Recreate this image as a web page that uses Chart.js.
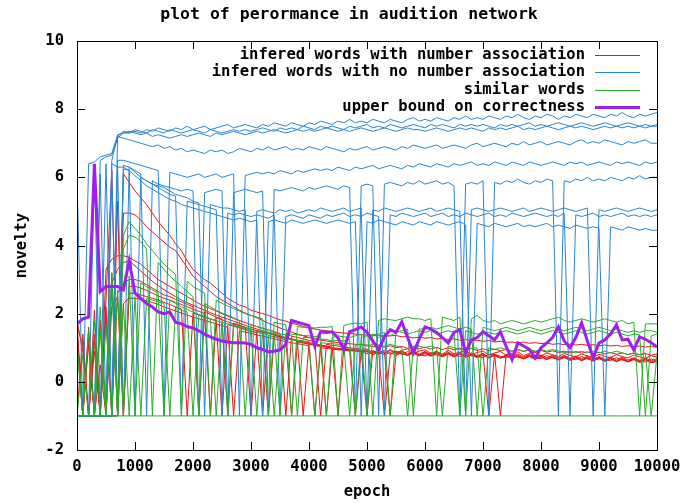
<!DOCTYPE html>
<html>
<head>
<meta charset="utf-8">
<title>plot of perormance in audition network</title>
<script src="https://cdn.jsdelivr.net/npm/chart.js"></script>
<style>
  html, body { margin: 0; padding: 0; background: #fff; }
  canvas { display: block; }
</style>
</head>
<body>
<canvas id="noveltyChart" width="684" height="503"></canvas>
<script>
// epochs (x values), one sample every 100 epochs
var epochs = [
  0, 100, 200, 300, 400, 500, 600, 700, 800, 900,
  1000, 1100, 1200, 1300, 1400, 1500, 1600, 1700, 1800, 1900,
  2000, 2100, 2200, 2300, 2400, 2500, 2600, 2700, 2800, 2900,
  3000, 3100, 3200, 3300, 3400, 3500, 3600, 3700, 3800, 3900,
  4000, 4100, 4200, 4300, 4400, 4500, 4600, 4700, 4800, 4900,
  5000, 5100, 5200, 5300, 5400, 5500, 5600, 5700, 5800, 5900,
  6000, 6100, 6200, 6300, 6400, 6500, 6600, 6700, 6800, 6900,
  7000, 7100, 7200, 7300, 7400, 7500, 7600, 7700, 7800, 7900,
  8000, 8100, 8200, 8300, 8400, 8500, 8600, 8700, 8800, 8900,
  9000, 9100, 9200, 9300, 9400, 9500, 9600, 9700, 9800, 9900, 10000
];

var xTicks = [0, 1000, 2000, 3000, 4000, 5000, 6000, 7000, 8000, 9000, 10000];
var yTicks = [-2, 0, 2, 4, 6, 8, 10];

// infered words with number association
var red1 = [
  1.6, 1.1, -1, 1.4, -1, 2.4, 6.2, -1, 6.1, 5.85,
  5.6, 5.4, 5.2, 4.95, 4.7, 4.5, 4.3, 4.05, 3.85, 3.55,
  3.3, 3.15, 3.0, 2.9, 2.75, 2.6, 2.45, 2.35, 2.25, 2.2,
  2.1, 2.05, 2.0, 1.95, 1.88, 1.82, 1.78, 1.72, 1.68, 1.62,
  1.58, 1.55, 1.52, 1.5, 1.47, 1.45, 1.43, 1.42, 1.4, 1.38,
  1.37, 1.35, 1.37, 1.33, 1.35, 1.36, 1.32, 1.33, 1.29, 1.31,
  1.28, 1.3, 1.26, 1.27, 1.24, 1.26, 1.22, 1.24, 1.21, 1.22,
  1.19, 1.21, 1.17, 1.19, 1.16, 1.17, 1.14, 1.17, 1.13, 1.15,
  1.12, 1.14, 1.1, 1.12, 1.09, 1.11, 1.08, 1.1, 1.07, 1.09,
  1.06, 1.08, 1.05, 1.07, 1.04, 1.06, 1.03, 1.05, 1.02, 1.04, 1.02
];
var red2 = [
  1.3, -1, 1.6, -1, 0.5, -1, 3.2, -1, 4.95, 4.95,
  4.9, 4.75, 4.55, 4.4, 4.25, 4.1, 3.95, 3.85, 3.6, 3.35,
  3.1, 2.95, 2.8, 2.65, 2.5, 2.4, 2.3, 2.2, 2.1, 2.02,
  1.95, 1.88, 1.8, 1.72, 1.65, 1.58, 1.52, 1.46, 1.4, 1.35,
  1.3, 1.26, 1.22, 1.2, 1.17, 1.15, 1.13, 1.12, 1.1, 1.09,
  1.08, 1.03, 1.07, 1.01, 1.06, 1.0, 1.04, 0.98, 1.03, 0.97,
  1.02, 0.96, 1.01, 0.95, 1.0, 0.94, 0.99, 0.93, 0.98, 0.92,
  0.97, 0.92, 0.96, 0.91, 0.95, 0.9, 0.94, 0.89, 0.93, 0.88,
  0.92, 0.87, 0.91, 0.86, 0.9, 0.85, 0.89, 0.84, 0.88, 0.83,
  0.87, 0.82, 0.86, 0.81, 0.85, 0.8, 0.84, 0.79, 0.83, 0.78, 0.82
];
var red3 = [
  1.8, 0.9, -1, 2.1, -1, 3.3, 3.6, 3.7, 3.7, 3.65,
  3.55, 3.45, 3.3, 3.15, 3.0, 2.9, 2.8, 2.7, 2.6, 2.5,
  2.4, 2.3, 2.22, 2.15, 2.08, 2.0, 1.93, 1.86, 1.8, 1.74,
  1.68, 1.62, 1.57, 1.52, 1.47, 1.42, -1, 1.34, 1.3, 1.26,
  1.22, 1.18, -1, 1.1, 1.07, 1.05, 1.02, 1.0, 0.98, 0.96,
  0.96, 0.86, 0.94, 0.84, 0.95, 0.85, 0.92, 0.97, 0.84, 0.9,
  0.94, 0.83, 0.9, 0.81, 0.93, 0.82, 0.87, 0.92, 0.8, 0.86,
  0.9, 0.79, 0.85, 0.89, 0.78, 0.84, 0.88, 0.77, 0.83, 0.87,
  0.76, 0.84, 0.8, 0.74, 0.83, 0.78, 0.73, 0.82, 0.76, 0.72,
  0.81, 0.75, 0.71, 0.8, 0.74, 0.7, 0.79, 0.73, 0.69, 0.77, 0.72
];
var red4 = [
  -1, 1.4, -1, -1, 1.8, -1, 2.9, 3.3, 3.5, 3.55,
  3.4, 3.25, 3.1, 2.95, 2.82, 2.7, 2.6, 2.5, 2.4, 2.32,
  2.25, 2.17, 2.1, 2.03, 1.96, 1.9, 1.84, 1.78, 1.72, 1.66,
  1.6, 1.55, 1.5, 1.45, 1.4, 1.35, 1.3, 1.26, 1.22, 1.18,
  1.15, 1.12, 1.08, 1.05, 1.02, -1, 0.98, 0.96, 0.94, 0.93,
  -1, 0.92, 0.82, 0.93, 0.81, 0.9, 0.8, 0.89, 0.83, 0.78,
  0.88, 0.78, 0.86, 0.76, 0.85, 0.79, 0.74, 0.84, 0.76, 0.73,
  0.83, 0.72, 0.81, 0.75, 0.7, 0.8, 0.72, 0.69, 0.78, 0.71,
  0.68, 0.77, 0.7, 0.66, 0.76, 0.68, 0.65, 0.74, 0.67, 0.63,
  0.72, 0.65, 0.62, 0.71, 0.64, 0.6, 0.69, 0.62, 0.58, 0.67, 0.6
];
var red5 = [
  1.7, -1, -1, 1.2, -1, 2.2, -1, 2.6, 2.9, 3.0,
  3.0, 2.95, 2.85, 2.75, 2.65, 2.55, 2.5, 2.42, 2.35, 2.27,
  2.2, -1, 2.05, 1.98, 1.9, 1.84, -1, 1.72, 1.66, 1.6,
  1.55, 1.5, 1.46, 1.42, 1.37, 1.33, 1.29, 1.25, 1.2, -1,
  1.12, 1.08, 1.05, 1.02, 0.99, 0.97, 0.95, 0.93, 0.91, 0.9,
  0.9, 0.8, 0.88, -1, 0.8, 0.9, 0.82, 0.78, 0.88, 0.8,
  0.76, 0.86, 0.78, 0.74, 0.85, 0.76, 0.82, 0.72, 0.81, 0.74,
  0.71, 0.8, 0.79, 0.7, 0.78, 0.69, 0.77, 0.68, 0.76, 0.67,
  0.75, 0.66, 0.74, 0.65, 0.73, 0.64, 0.72, 0.63, 0.71, 0.62,
  0.7, 0.61, 0.69, 0.6, 0.68, 0.59, 0.67, 0.58, 0.66, 0.57, 0.6
];
var red6 = [
  1.5, -1, 1.1, -1, -1, -1, -1, 5.3, -1, 2.8,
  2.8, 2.75, 2.68, 2.6, 2.52, 2.45, 2.4, 2.33, 2.27, 2.2,
  2.13, 2.07, 2.0, -1, 1.88, 1.82, 1.76, 1.7, 1.65, 1.6,
  -1, 1.5, 1.45, -1, 1.36, 1.32, 1.28, 1.24, 1.2, 1.16,
  1.12, 1.09, 1.06, 1.03, 1.0, 0.98, 0.96, 0.94, 0.92, 0.9,
  0.94, 0.85, 0.93, 0.84, 0.92, 0.83, 0.91, 0.82, 0.9, 0.81,
  0.89, 0.8, 0.88, 0.79, 0.87, 0.78, 0.86, 0.77, 0.85, 0.76,
  0.84, -1, 0.82, -1, 0.81, 0.74, 0.82, 0.73, 0.8, 0.72,
  0.79, 0.71, 0.78, 0.7, 0.77, 0.69, 0.76, 0.68, 0.75, 0.67,
  0.74, 0.66, 0.73, 0.65, 0.72, 0.64, 0.71, 0.63, 0.7, 0.62, 0.68
];
var red7 = [
  1.2, -1, -1, 0.9, -1, -1, 2.2, 2.5, -1, 2.6,
  2.6, 2.55, 2.5, 2.45, 2.4, 2.33, 2.27, 2.2, 2.14, -1,
  2.02, 1.96, 1.9, 1.84, 1.79, -1, 1.68, 1.63, 1.58, 1.53,
  1.48, 1.44, -1, 1.36, 1.32, 1.28, 1.24, -1, 1.17, 1.14,
  1.1, 1.07, 1.04, -1, 0.98, 0.96, 0.94, 0.92, 0.9, 0.89,
  0.82, 0.9, 0.81, 0.89, -1, 0.8, 0.88, 0.79, 0.87, 0.78,
  0.86, 0.77, 0.85, 0.76, 0.84, 0.75, 0.83, 0.74, 0.82, 0.73,
  0.81, 0.72, 0.8, 0.71, 0.79, 0.7, 0.78, 0.69, 0.77, 0.68,
  0.76, 0.67, 0.75, 0.66, 0.74, 0.65, 0.73, 0.64, 0.72, 0.63,
  0.71, 0.62, 0.7, 0.61, 0.69, 0.6, 0.68, 0.59, 0.67, 0.58, 0.62
];
var red8 = [
  1.6, -1, 1.3, -1, -1, 1.9, -1, -1, 2.3, 2.45,
  2.45, 2.42, 2.38, 2.33, 2.27, 2.2, 2.14, 2.08, 2.02, 1.96,
  1.9, 1.85, 1.8, 1.75, 1.7, 1.65, 1.6, -1, 1.5, 1.46,
  1.42, 1.38, 1.34, 1.3, 1.26, 1.22, 1.18, 1.15, 1.12, 1.09,
  1.06, -1, 1.0, 0.98, 0.96, 0.94, 0.93, 0.91, -1, 0.89,
  0.88, 0.8, 0.87, 0.79, 0.86, 0.78, 0.85, 0.77, 0.84, 0.76,
  0.83, 0.75, 0.82, 0.74, 0.81, 0.73, 0.8, 0.72, 0.79, 0.71,
  0.78, 0.7, 0.77, 0.69, 0.76, 0.68, 0.75, 0.67, 0.74, 0.66,
  0.73, 0.65, 0.72, 0.64, 0.71, 0.63, 0.7, 0.62, 0.69, 0.61,
  0.68, 0.6, 0.67, 0.59, 0.66, 0.58, 0.65, 0.57, 0.64, 0.56, 0.6
];

// infered words with no number association
var blue1 = [
  -1, -1, 6.4, 6.45, 6.6, 6.65, 6.7, 7.25, 7.3, 7.3,
  7.35, 7.3, 7.4, 7.35, 7.45, 7.4, 7.35, 7.45, 7.4, 7.5,
  7.4, 7.45, 7.5, 7.4, 7.45, 7.5, 7.55, 7.45, 7.5, 7.55,
  7.5, 7.45, 7.55, 7.5, 7.6, 7.55, 7.5, 7.6, 7.55, 7.5,
  7.6, 7.55, 7.65, 7.6, 7.55, 7.65, 7.6, 7.7, 7.6, 7.65,
  7.6, 7.7, 7.65, 7.6, 7.7, 7.65, 7.6, 7.7, 7.75, 7.65,
  7.7, 7.65, 7.75, 7.7, 7.65, 7.75, 7.7, 7.8, 7.7, 7.75,
  7.7, 7.8, 7.75, 7.7, 7.8, 7.75, 7.85, 7.75, 7.7, 7.8,
  7.75, 7.85, 7.8, 7.7, 7.8, 7.75, 7.85, 7.8, 7.75, 7.85,
  7.8, 7.75, 7.85, 7.8, 7.9, 7.8, 7.75, 7.85, 7.8, 7.85, 7.9
];
var blue2 = [
  -1, -1, -1, -1, -1, -1, -1, 7.2, 7.35, 7.3,
  7.4, 7.35, 7.3, 7.4, 7.35, 7.3, 7.4, 7.35, 7.3, 7.35,
  7.4, 7.35, 7.3, 7.4, 7.35, 7.3, 7.35, 7.4, 7.35, 7.4,
  7.35, 7.4, 7.45, 7.4, 7.35, 7.45, 7.4, 7.45, 7.4, 7.5,
  7.45, 7.4, 7.5, 7.45, 7.5, 7.45, 7.4, 7.5, 7.45, 7.5,
  7.55, 7.45, 7.5, 7.45, 7.55, 7.5, 7.45, 7.5, 7.55, 7.5,
  7.45, 7.55, 7.5, 7.55, 7.5, 7.45, 7.55, 7.5, 7.55, 7.5,
  7.55, 7.5, 7.45, 7.55, 7.5, 7.55, 7.5, 7.55, 7.6, 7.5,
  7.55, 7.5, 7.55, 7.6, 7.55, 7.5, 7.55, 7.6, 7.55, 7.5,
  7.55, 7.6, 7.55, 7.5, 7.55, 7.6, 7.55, 7.5, 7.55, 7.5, 7.55
];
var blue3 = [
  6.0, -1, -1, -1, 6.5, 6.6, 6.65, 7.15, 7.3, 7.35,
  7.3, 7.25, 7.3, 7.2, 7.25, 7.2, 7.15, 7.2, 7.25, 7.2,
  7.25, 7.3, 7.25, 7.2, 7.3, 7.25, 7.3, 7.35, 7.3, 7.25,
  7.3, 7.35, 7.3, 7.35, 7.4, 7.35, 7.3, 7.35, 7.4, 7.35,
  7.4, 7.35, 7.4, 7.45, 7.4, 7.35, 7.4, 7.35, 7.4, 7.45,
  7.4, 7.35, 7.4, 7.45, 7.4, 7.35, 7.4, 7.45, 7.4, 7.4,
  7.35, 7.4, 7.45, 7.4, 7.35, 7.4, 7.45, 7.4, 7.45, 7.4,
  7.35, 7.45, 7.4, 7.45, 7.4, 7.45, 7.5, 7.4, 7.45, 7.4,
  7.45, 7.5, 7.45, 7.4, 7.45, 7.5, 7.45, 7.5, 7.45, 7.4,
  7.45, 7.5, 7.45, 7.5, 7.45, 7.5, 7.45, 7.5, 7.45, 7.5, 7.5
];
var blue4 = [
  -1, -1, -1, -1, -1, -1, 6.5, 7.2, 7.15, 7.1,
  7.05, 7.0, 6.95, 6.9, 6.95, 6.85, 6.9, 6.8, 6.85, 6.75,
  6.8, 6.75, 6.7, 6.8, 6.75, 6.8, 6.7, 6.75, 6.85, 6.8,
  6.75, 6.85, 6.8, 6.9, 6.8, 6.85, 6.9, 6.8, 6.85, 6.8,
  6.9, 6.85, 6.8, 6.9, 6.85, 6.8, 6.75, 6.85, 6.8, 6.85,
  6.9, 6.8, 6.85, 6.9, 6.85, 6.8, 6.9, 6.85, 6.95, 6.9,
  6.85, 6.9, 6.95, 6.85, 6.9, 6.95, 6.9, 6.85, 6.95, 7.0,
  6.9, 6.95, 7.0, 6.95, 6.9, 7.0, 6.95, 7.05, 6.95, 7.0,
  7.05, 6.95, 7.0, 7.05, 7.0, 6.95, 7.05, 7.1, 7.0, 7.05,
  7.0, 7.1, 7.05, 7.0, 6.95, 7.05, 7.0, 7.05, 7.1, 7.0, 7.0
];
var blue5 = [
  -1, -1, -1, -1, -1, 6.4, -1, 6.5, 6.5, 6.45,
  6.4, 6.35, 6.3, 6.25, 6.2, -1, 6.15, 6.1, 6.05, 6.0,
  6.05, 6.1, 6.0, 6.05, 6.1, 6.0, 6.05, 6.1, -1, 6.05,
  6.1, 6.15, 6.1, 6.15, 6.1, 6.2, 6.15, 6.1, 6.2, 6.15,
  6.2, 6.25, 6.2, 6.25, 6.2, 6.3, 6.25, 6.2, 6.3, 6.25,
  6.3, 6.35, 6.25, 6.3, 6.35, 6.3, 6.25, 6.35, 6.3, 6.4,
  6.35, 6.3, 6.4, 6.35, 6.3, 6.4, 6.35, 6.4, 6.45, 6.35,
  6.4, 6.35, 6.45, 6.4, 6.35, 6.45, 6.4, 6.35, 6.45, 6.4,
  6.35, 6.4, 6.45, 6.4, 6.35, 6.45, 6.4, 6.45, 6.35, 6.4,
  6.45, 6.4, 6.35, 6.45, 6.4, 6.45, 6.4, 6.35, 6.45, 6.4, 6.45
];
var blue6 = [
  -1, -1, -1, 6.2, -1, -1, 6.4, 6.3, -1, 6.3,
  6.2, 6.1, -1, 5.9, 5.8, 5.75, 5.7, 5.65, 5.6, 5.65,
  5.6, -1, 5.55, 5.6, 5.65, 5.6, -1, 5.55, 5.6, 5.65,
  5.6, 5.55, 5.6, -1, 5.65, 5.6, 5.65, 5.7, 5.65, 5.6,
  5.7, 5.65, 5.7, 5.75, 5.7, 5.65, 5.75, 5.7, -1, 5.75,
  5.8, 5.75, -1, 5.8, 5.85, 5.8, 5.75, 5.85, 5.8, 5.9,
  5.8, 5.85, 5.9, 5.8, 5.85, 5.75, -1, 5.8, 5.85, 5.8,
  5.9, -1, 5.85, 5.8, 5.9, 5.85, 5.95, 5.85, 5.8, 5.9,
  5.85, 5.95, 5.9, -1, 5.9, 5.85, 5.95, 5.9, 6.0, 5.9,
  5.95, 5.9, 6.0, 5.95, 5.9, 6.0, 5.95, 6.05, 5.95, 6.0, 6.0
];
var blue7 = [
  -1, -1, -1, -1, -1, -1, -1, 6.3, 6.3, 6.2,
  -1, 6.0, 5.9, 5.8, 5.75, 5.7, 5.6, 5.5, 5.45, 5.4,
  5.3, 5.25, -1, 5.2, 5.15, 5.1, 5.1, 5.05, 5.0, 5.05,
  -1, 5.0, 5.05, 5.0, 4.95, 5.05, 5.0, 5.05, 4.95, 5.0,
  5.05, 5.0, 5.1, 5.05, 5.0, 5.05, 5.1, 5.0, 5.05, 5.1,
  -1, 5.05, 5.0, 5.1, 5.05, 5.0, 5.05, 5.1, 5.05, 5.0,
  5.05, 5.1, 5.0, 5.05, 5.1, 5.05, 5.0, -1, 5.05, 5.1,
  5.05, 5.0, 5.05, 5.1, 5.05, 5.0, 5.05, 5.1, 5.0, 5.05,
  5.1, 5.05, 5.0, 5.05, 5.1, 5.05, 5.0, 5.05, 5.1, -1,
  5.05, 5.0, 5.05, 5.1, 5.05, 5.0, 5.05, 5.1, 5.05, 5.0, 5.05
];
var blue8 = [
  -1, -1, -1, -1, 6.1, -1, -1, -1, 6.35, 6.3,
  6.15, 6.0, 5.9, 5.8, 5.7, 5.6, 5.5, 5.45, -1, 5.3,
  5.25, 5.2, 5.15, 5.1, 5.05, -1, 4.95, 4.9, 4.95, 4.9,
  4.85, 4.9, 4.85, 4.8, 4.9, -1, 4.85, 4.9, 4.85, 4.8,
  4.9, 4.85, 4.8, 4.9, 4.85, 4.9, 4.95, 4.85, 4.9, 4.85,
  4.95, 4.9, 4.85, -1, 4.9, 4.85, 4.95, 4.9, 4.85, 4.9,
  4.95, 4.85, 4.9, 4.95, 4.85, 4.9, 4.85, 4.95, 4.9, 4.85,
  4.9, 4.95, 4.85, 4.9, 4.85, 4.95, 4.9, 4.85, 4.9, 4.95,
  4.9, 4.85, 4.9, 4.85, 4.95, -1, 4.9, 4.85, 4.9, 4.95,
  4.85, 4.9, 4.85, 4.9, 4.95, 4.85, 4.9, 4.85, 4.9, 4.85, 4.9
];
var blue9 = [
  -1, -1, -1, -1, -1, -1, 6.2, -1, 6.25, 6.2,
  6.05, 5.9, 5.75, 5.65, 5.55, 5.45, 5.35, 5.3, 5.2, 5.15,
  5.1, 5.05, 5.0, 4.95, 4.9, 4.85, 4.8, 4.75, 4.8, 4.75,
  4.7, 4.75, -1, 4.7, 4.75, 4.7, 4.65, 4.75, 4.7, 4.65,
  4.7, 4.75, 4.7, 4.65, 4.7, 4.75, 4.7, 4.65, 4.7, -1,
  4.7, 4.65, 4.75, 4.7, 4.65, 4.6, 4.7, 4.65, 4.6, 4.7,
  4.65, 4.6, 4.7, 4.65, 4.6, 4.65, 4.7, 4.6, -1, 4.65,
  4.6, 4.55, 4.65, 4.6, 4.55, 4.6, 4.65, 4.55, 4.6, 4.55,
  4.6, 4.65, 4.55, 4.6, 4.55, 4.5, 4.6, 4.55, 4.5, 4.55,
  4.5, -1, 4.55, 4.5, 4.45, 4.55, 4.5, 4.45, 4.5, 4.45, 4.45
];

// similar words
var green0 = [
  -1, -1, -1, -1, -1, -1, -1, -1, -1, -1,
  -1, -1, -1, -1, -1, -1, -1, -1, -1, -1,
  -1, -1, -1, -1, -1, -1, -1, -1, -1, -1,
  -1, -1, -1, -1, -1, -1, -1, -1, -1, -1,
  -1, -1, -1, -1, -1, -1, -1, -1, -1, -1,
  -1, -1, -1, -1, -1, -1, -1, -1, -1, -1,
  -1, -1, -1, -1, -1, -1, -1, -1, -1, -1,
  -1, -1, -1, -1, -1, -1, -1, -1, -1, -1,
  -1, -1, -1, -1, -1, -1, -1, -1, -1, -1,
  -1, -1, -1, -1, -1, -1, -1, -1, -1, -1, -1
];
var green1 = [
  -1, -1, 1.5, -1, 2.2, -1, 3.2, -1, 4.3, 4.7,
  4.5, 4.3, 4.05, 3.85, 3.65, 3.45, 3.3, 3.15, -1, 2.95,
  2.8, 2.7, 2.6, -1, 2.4, 2.3, 2.22, 2.15, 2.08, 2.0,
  1.95, 1.9, 1.85, -1, 1.75, 1.7, 1.68, -1, 1.62, 1.6,
  1.6, 1.58, 1.6, 1.6, 1.62, -1, 1.65, 1.7, 1.72, 1.7,
  1.75, -1, 1.8, 1.85, 1.82, 1.8, 1.85, 1.9, 1.85, 1.85,
  1.8, 1.85, -1, 1.9, 1.85, 1.8, 1.9, -1, 1.85, 1.95,
  1.8, 1.75, 1.8, 1.7, 1.75, 1.8, 1.75, 1.7, 1.75, 1.8,
  1.75, 1.8, 1.85, 1.9, 1.8, 1.75, 1.8, 1.85, 1.8, 1.75,
  1.8, 1.85, 1.8, 1.75, 1.8, 1.7, 1.75, -1, 1.7, 1.7, 1.7
];
var green2 = [
  1.2, -1, -1, 1.8, -1, -1, 2.8, -1, 3.9, 4.3,
  4.25, 4.1, 3.9, -1, 3.5, 3.3, 3.1, 2.95, 2.8, 2.65,
  2.5, -1, 2.3, 2.2, 2.1, 2.02, 1.95, 1.88, 1.8, -1,
  1.68, 1.62, 1.57, 1.52, 1.48, -1, 1.42, 1.4, 1.38, 1.36,
  1.35, 1.33, 1.35, -1, 1.3, 1.35, 1.32, 1.3, 1.35, 1.4,
  -1, 1.38, 1.4, 1.45, -1, 1.5, 1.45, 1.4, 1.45, 1.5,
  1.45, 1.5, 1.4, 1.45, 1.5, 1.45, -1, 1.5, 1.45, 1.4,
  1.42, 1.45, 1.4, 1.45, 1.5, 1.45, 1.4, 1.45, 1.5, 1.45,
  1.4, 1.45, 1.5, 1.45, 1.4, 1.45, 1.5, 1.45, 1.4, 1.45,
  1.5, 1.45, 1.4, 1.45, 1.4, 1.35, 1.4, 1.38, -1, 1.35, 1.4
];
var green3 = [
  -1, 0.8, -1, -1, 1.5, -1, -1, 2.7, -1, 3.1,
  -1, 2.9, 2.8, 2.7, 2.6, -1, 2.4, 2.3, 2.2, 2.12,
  2.05, 1.98, 1.92, 1.85, 1.8, 1.74, -1, 1.64, 1.6, 1.55,
  1.5, 1.45, 1.42, 1.38, -1, 1.3, 1.28, 1.25, 1.22, 1.2,
  1.18, -1, 1.15, 1.13, 1.12, 1.1, 1.1, -1, 1.08, 1.1,
  1.05, 1.1, 1.08, 1.05, 1.1, 1.05, 1.0, -1, 1.05, 1.05,
  1.0, 1.05, 1.0, -1, 1.05, 1.0, 0.95, 1.0, 0.98, 1.0,
  -1, 1.0, 0.95, 1.0, 0.95, 0.9, 0.95, 0.9, 0.95, 0.9,
  0.95, 0.9, 0.95, 0.9, 0.85, 0.9, 0.85, 0.9, 0.85, 0.9,
  0.85, 0.9, 0.85, 0.9, 0.85, 0.8, 0.85, 0.8, 0.85, -1, 0.8
];
var green4 = [
  1.0, -1, -1, -1, -1, 1.7, -1, -1, 2.3, -1,
  2.5, -1, 2.45, 2.4, 2.35, 2.3, -1, 2.2, 2.1, 2.05,
  -1, 1.95, 1.9, 1.85, -1, 1.75, 1.7, 1.66, 1.62, 1.58,
  1.55, -1, 1.48, 1.45, 1.42, 1.4, 1.38, 1.35, -1, 1.3,
  1.3, 1.28, 1.25, 1.25, 1.2, 1.22, 1.2, 1.25, -1, 1.3,
  1.35, 1.4, 1.3, 1.38, 1.35, 1.45, 1.5, 1.55, -1, 1.55,
  1.55, 1.6, 1.55, 1.6, 1.65, 1.6, 1.55, 1.6, 1.55, -1,
  1.6, 1.55, 1.5, 1.55, 1.6, 1.55, 1.5, 1.55, 1.6, 1.55,
  1.5, 1.55, 1.6, 1.55, 1.5, 1.55, 1.6, 1.55, 1.5, 1.55,
  1.6, 1.55, 1.5, 1.55, 1.5, 1.45, 1.5, 1.45, 1.5, 1.5, 1.45
];

// upper bound on correctness
var upperBound = [
  1.7, 1.85, 1.9, 6.4, 2.65, 2.8, 2.8, 2.8, 2.7, 3.55,
  2.6, 2.45, 2.3, 2.2, 2.05, 2.0, 2.05, 1.75, 1.7, 1.62,
  1.58, 1.5, 1.4, 1.32, 1.25, 1.2, 1.17, 1.15, 1.15, 1.14,
  1.1, 1.0, 0.95, 0.88, 0.9, 0.94, 1.1, 1.8, 1.75, 1.7,
  1.65, 1.05, 1.47, 1.45, 1.47, 1.29, 0.94, 1.47, 1.53, 1.61,
  1.45, 1.2, 0.94, 1.32, 1.53, 1.45, 1.76, 1.3, 0.85, 1.25,
  1.61, 1.55, 1.45, 1.3, 1.14, 1.45, 1.53, 0.85, 1.23, 1.3,
  1.47, 1.35, 1.23, 1.47, 1.03, 0.65, 1.14, 1.05, 0.95, 0.7,
  1.0, 1.14, 1.3, 1.61, 1.2, 1.0, 1.3, 1.73, 1.2, 0.7,
  1.14, 1.23, 1.4, 1.67, 1.23, 1.25, 0.94, 1.32, 1.25, 1.15, 1.03
];

var redSeries = [red1, red2, red3, red4, red5, red6, red7, red8];
var blueSeries = [blue1, blue2, blue3, blue4, blue5, blue6, blue7, blue8, blue9];
var greenSeries = [green0, green1, green2, green3, green4];

var RED = 'rgb(235,20,20)';
var BLUE = 'rgb(38,132,214)';
var GREEN = 'rgb(40,172,40)';
var PURPLE = 'rgb(158,32,235)';
var FONT = '"DejaVu Sans Mono", "Liberation Mono", monospace';
var TITLE = 'plot of perormance in audition network';

var keyItems = [
    {text: 'infered words with number association', color: RED, width: 1},
    {text: 'infered words with no number association', color: BLUE, width: 1},
    {text: 'similar words', color: GREEN, width: 1},
    {text: 'upper bound on correctness', color: PURPLE, width: 3}
];

// higher order is painted first, so purple ends up on top
function lineSet(values, color, width, order) {
    return {
        data: values,
        borderColor: color,
        borderWidth: width,
        pointRadius: 0,
        fill: false,
        tension: 0,
        order: order
    };
}

var datasets = [];
redSeries.forEach(function (s) { datasets.push(lineSet(s, RED, 1, 4)); });
blueSeries.forEach(function (s) { datasets.push(lineSet(s, BLUE, 1, 3)); });
greenSeries.forEach(function (s) { datasets.push(lineSet(s, GREEN, 1, 2)); });
datasets.push(lineSet(upperBound, PURPLE, 3, 1));

// gnuplot style title, frame, inward ticks and key inside the plot
var framePlugin = {
    id: 'gnuplotFrame',
    afterDraw: function (chart) {
        var ctx = chart.ctx;
        var a = chart.chartArea;
        var xs = chart.scales.x, ys = chart.scales.y;
        ctx.save();
        ctx.fillStyle = '#000';
        ctx.font = 'bold 16.5px ' + FONT;
        ctx.textAlign = 'center';
        ctx.textBaseline = 'middle';
        ctx.fillText(TITLE, 349, 15);

        ctx.strokeStyle = '#000';
        ctx.lineWidth = 1;
        ctx.strokeRect(Math.round(a.left) + 0.5, Math.round(a.top) + 0.5,
            Math.round(a.right - a.left), Math.round(a.bottom - a.top));
        ctx.beginPath();
        xTicks.forEach(function (v) {
            var px = Math.round(xs.getPixelForValue(v)) + 0.5;
            ctx.moveTo(px, a.bottom); ctx.lineTo(px, a.bottom - 8);
            ctx.moveTo(px, a.top); ctx.lineTo(px, a.top + 8);
        });
        yTicks.forEach(function (v) {
            var py = Math.round(ys.getPixelForValue(v)) + 0.5;
            ctx.moveTo(a.left, py); ctx.lineTo(a.left + 8, py);
            ctx.moveTo(a.right, py); ctx.lineTo(a.right - 8, py);
        });
        ctx.stroke();

        ctx.font = 'bold 15.5px ' + FONT;
        ctx.textAlign = 'right';
        keyItems.forEach(function (it, k) {
            var y = Math.round(a.top + 14 + k * 17.3);
            ctx.fillStyle = '#000';
            ctx.fillText(it.text, a.right - 72, y);
            ctx.strokeStyle = it.color;
            ctx.lineWidth = it.width;
            ctx.beginPath();
            ctx.moveTo(a.right - 62, y + 0.5);
            ctx.lineTo(a.right - 17, y + 0.5);
            ctx.stroke();
        });
        ctx.restore();
    }
};

var tickFont = {family: FONT, size: 15.5, weight: 'bold'};
function plainNumber(v) { return String(v); }

// keep the plot box fixed: 77..657 by 41..450
function noLabelPadding(s) {
    s.paddingLeft = 0; s.paddingRight = 0;
    s.paddingTop = 0; s.paddingBottom = 0;
}

new Chart(document.getElementById('noveltyChart').getContext('2d'), {
    type: 'line',
    data: {labels: epochs, datasets: datasets},
    options: {
        responsive: false,
        devicePixelRatio: 1,
        animation: false,
        events: [],
        layout: {padding: {left: 0, right: 27, top: 41, bottom: 0}},
        plugins: {
            legend: {display: false},
            tooltip: {enabled: false},
            title: {display: false}
        },
        scales: {
            x: {
                type: 'linear',
                min: 0,
                max: 10000,
                afterBuildTicks: function (s) { s.ticks = xTicks.map(function (v) { return {value: v}; }); },
                afterFit: function (s) { s.height = 53; noLabelPadding(s); },
                grid: {display: false, drawTicks: false},
                border: {display: false},
                ticks: {color: '#000', font: tickFont, padding: 8, maxRotation: 0, autoSkip: false, callback: plainNumber},
                title: {display: true, text: 'epoch', color: '#000', font: tickFont, padding: {top: 0, bottom: 2}}
            },
            y: {
                type: 'linear',
                min: -2,
                max: 10,
                afterBuildTicks: function (s) { s.ticks = yTicks.map(function (v) { return {value: v}; }); },
                afterFit: function (s) { s.width = 77; noLabelPadding(s); },
                grid: {display: false, drawTicks: false},
                border: {display: false},
                ticks: {color: '#000', font: tickFont, padding: 13, callback: plainNumber},
                title: {display: true, text: 'novelty', color: '#000', font: tickFont, padding: {top: 13, bottom: 0}}
            }
        }
    },
    plugins: [framePlugin]
});
</script>
</body>
</html>
